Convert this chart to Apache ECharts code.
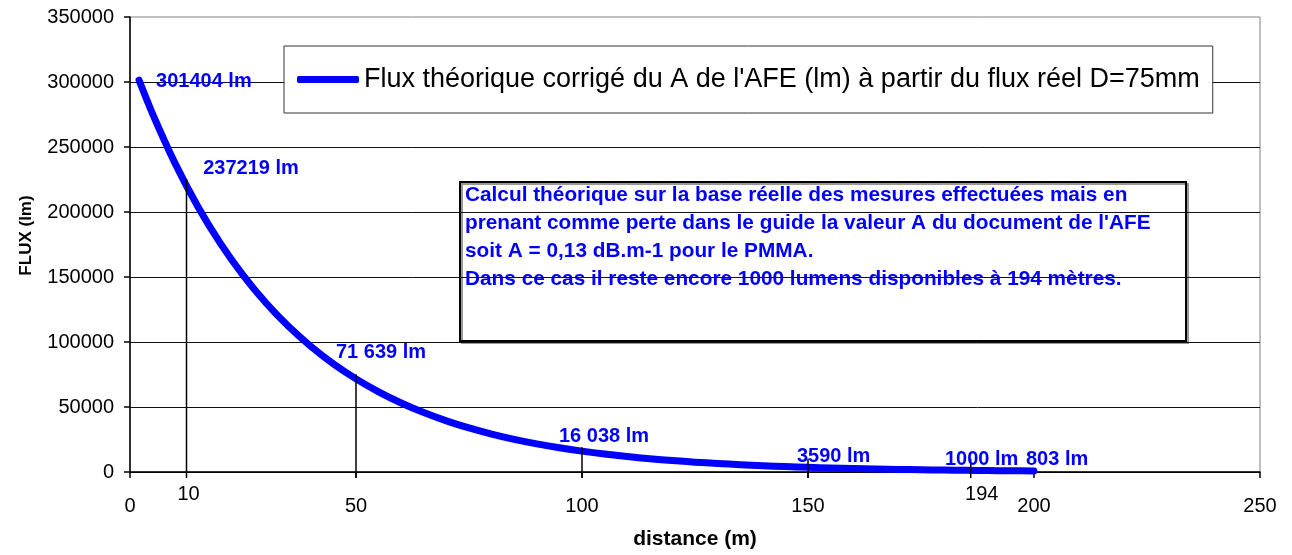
<!DOCTYPE html>
<html>
<head>
<meta charset="utf-8">
<script src="https://cdn.jsdelivr.net/npm/echarts@6/dist/echarts.min.js"></script>
<style>html,body{margin:0;padding:0;background:#fff}#c{width:1292px;height:555px}</style>
</head>
<body>
<div id="c"></div>
<script>
// ---- data ----
const distances = [2,5,10,15,20,25,30,35,40,45,50,55,60,65,70,75,80,85,90,95,100,105,110,115,120,125,130,135,140,145,150,155,160,165,170,175,180,185,190,194,200];
const flux = [301404,275517,237219,204244,175853,151408,130361,112240,96638,83205,71639,61680,53106,45724,39368,33896,29184,25127,21634,18627,16038,13809,11889,10236,8813,7588,6533,5625,4843,4170,3590,3091,2661,2291,1973,1699,1462,1259,1084,1000,803];
const labelDist = [2,10,50,100,150,194,200];
const labelFlux = [301404,237219,71639,16038,3590,1000,803];
const labelText = ['301404 lm','237219 lm','71 639 lm','16 038 lm','3590 lm','1000 lm','803 lm'];
const dropDist = [12.5,50,100,150,186];
const dropTop = [225400,75100,19100,10200,10200];
const dropText = ['10','','','','194'];
const seriesName = "Flux théorique corrigé du A de l'AFE (lm) à partir du flux réel D=75mm";
const xTicks = {min:0, max:250, interval:50};
const yTicks = {min:0, max:350000, interval:50000};
const noteLines = [
  "Calcul théorique sur la base réelle des mesures effectuées mais en",
  "prenant comme perte dans le guide la valeur A du document de l'AFE",
  "soit A = 0,13 dB.m-1 pour le PMMA.",
  "Dans ce cas il reste encore 1000 lumens disponibles à 194 mètres."
];
const xName = 'distance (m)';
const yName = 'FLUX (lm)';

// ---- styling (not data) ----
const FONT = 'Liberation Sans, Arial, sans-serif';
const LABEL_OFFSETS = [[17,1],[28,5],[-20,-26],[-23,-15],[-11,-11],[-62,-11],[-8,-11]];
const DROP_LABEL_DX = [2,0,0,0,11];

const chart = echarts.init(document.getElementById('c'), null, {renderer:'canvas'});
chart.setOption({
  animation: false,
  backgroundColor: '#fff',
  grid: {left:130, right:32, top:17, bottom:80, show:true, borderColor:'#808080', borderWidth:1, backgroundColor:'#fff'},
  legend: {
    show: true,
    left: 284, top: 46,
    padding: [18, 13, 18, 13],
    borderColor: '#333', borderWidth: 1, backgroundColor: '#fff',
    itemWidth: 62, itemHeight: 7, icon: 'roundRect',
    data: [seriesName],
    textStyle: {fontFamily: FONT, fontSize: 27, color: '#000', lineHeight: 31},
    selectedMode: false
  },
  xAxis: {
    type: 'value', min: xTicks.min, max: xTicks.max, interval: xTicks.interval,
    name: xName, nameLocation: 'middle', nameGap: 57,
    nameTextStyle: {fontFamily: FONT, fontSize: 21, fontWeight: 'bold', color: '#000'},
    axisLine: {show: true, lineStyle: {color: '#000', width: 1.5}},
    axisTick: {show: true, inside: false, length: 6, lineStyle: {color: '#000', width: 1.5}},
    axisLabel: {fontFamily: FONT, fontSize: 20, color: '#000', margin: 24, formatter: v => String(v)},
    splitLine: {show: false}
  },
  yAxis: {
    type: 'value', min: yTicks.min, max: yTicks.max, interval: yTicks.interval,
    name: yName, nameLocation: 'middle', nameGap: 95, nameRotate: 90,
    nameTextStyle: {fontFamily: FONT, fontSize: 17, fontWeight: 'bold', color: '#000', padding: [0, 0, 0, 18]},
    axisLine: {show: true, lineStyle: {color: '#000', width: 1.5}},
    axisTick: {show: true, inside: false, length: 6, lineStyle: {color: '#000', width: 1.5}},
    axisLabel: {fontFamily: FONT, fontSize: 20, color: '#000', margin: 16, formatter: v => String(v)},
    splitLine: {show: true, showMaxLine: false, lineStyle: {color: '#111', width: 1}}
  },
  graphic: [{
    type: 'group', z: 100,
    children: [{
      type: 'rect', left: 459, top: 181,
      shape: {x: 0, y: 0, width: 726, height: 159},
      style: {fill: '#fff', stroke: '#000', lineWidth: 2, shadowColor: '#999', shadowOffsetX: 2, shadowOffsetY: 2, shadowBlur: 0}
    }, {
      type: 'text', left: 465, top: 181,
      style: {text: noteLines.join('\n'), fontFamily: FONT, fontSize: 20.8, fontWeight: 'bold', fill: '#0000ff', lineHeight: 28}
    }]
  }],
  series: [{
    name: seriesName,
    type: 'line',
    data: distances.map((d, i) => [d, flux[i]]),
    showSymbol: false, symbol: 'none',
    smooth: 0.2,
    lineStyle: {color: '#0000ff', width: 7, cap: 'round', join: 'round'},
    itemStyle: {color: '#0000ff'},
    z: 3
  }, {
    type: 'scatter',
    symbolSize: 0,
    silent: true,
    itemStyle: {opacity: 1, color: '#0000ff'},
    data: labelDist.map((d, i) => ({
      value: [d, labelFlux[i]],
      label: {show: true, position: 'right', distance: 0, offset: LABEL_OFFSETS[i], formatter: labelText[i]}
    })),
    label: {fontFamily: FONT, fontSize: 20, fontWeight: 'bold', color: '#0000ff', opacity: 1},
    z: 5
  }, {
    type: 'custom',
    clip: false,
    silent: true,
    data: dropDist.map((d, i) => [d, dropTop[i]]),
    renderItem: function (params, api) {
      const x = api.value(0), top = api.value(1);
      const p0 = api.coord([x, 0]);
      const p1 = api.coord([x, top]);
      const children = [{
        type: 'line',
        shape: {x1: p0[0], y1: p0[1] + 6, x2: p1[0], y2: p1[1]},
        style: {stroke: '#000', lineWidth: 1.5}
      }];
      const t = dropText[params.dataIndex];
      if (t) {
        children.push({
          type: 'text',
          style: {text: t, x: p0[0] + DROP_LABEL_DX[params.dataIndex], y: p0[1] + 22, align: 'center', verticalAlign: 'middle',
                  fontFamily: FONT, fontSize: 20, fill: '#000'}
        });
      }
      return {type: 'group', children: children};
    },
    z: 4
  }]
});
</script>
</body>
</html>
